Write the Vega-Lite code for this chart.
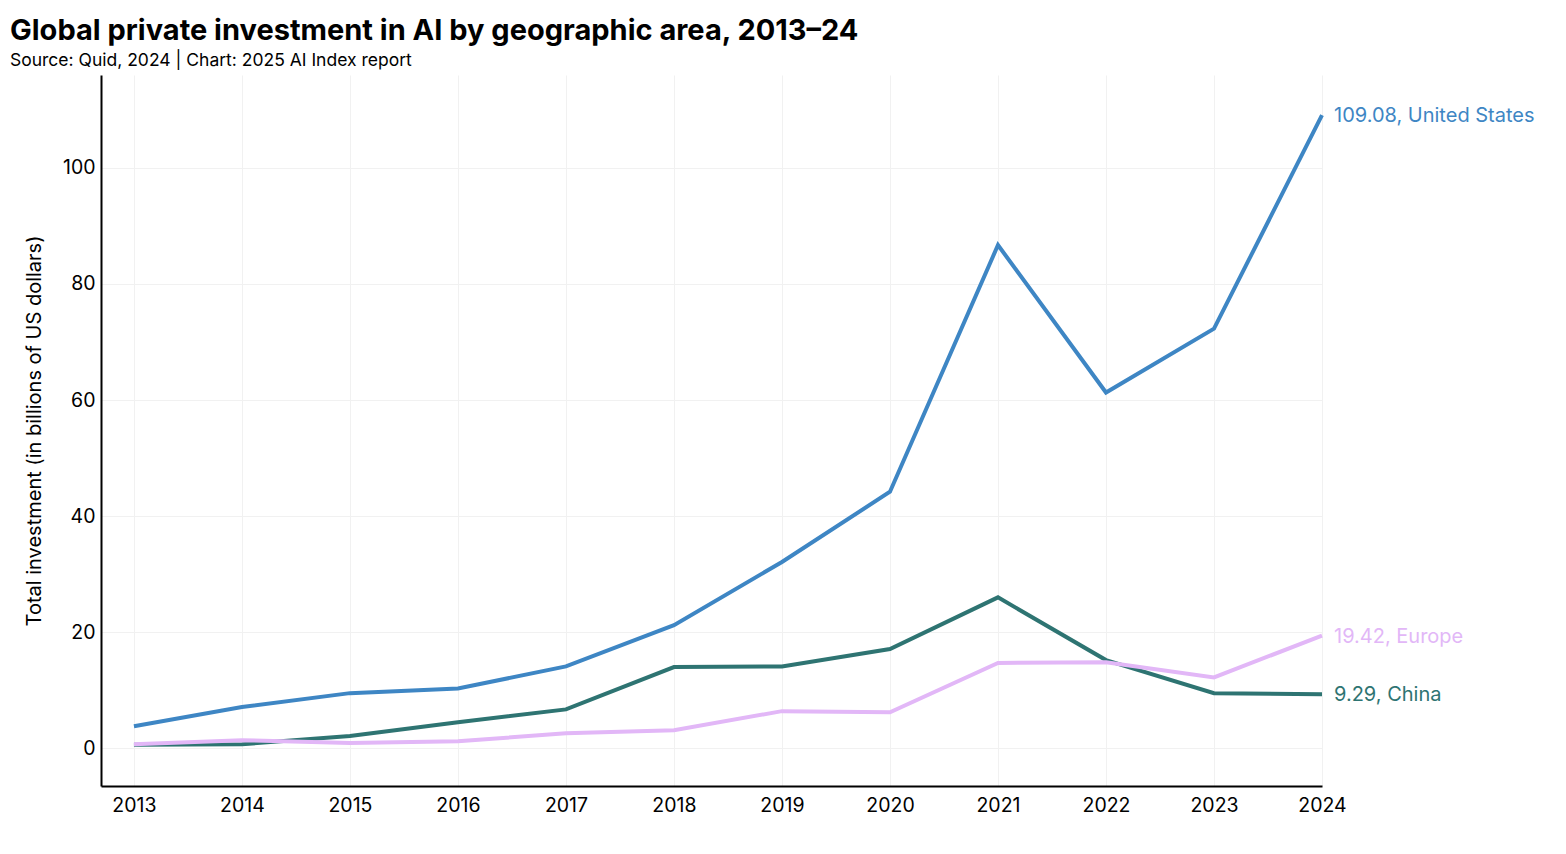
{
  "$schema": "https://vega.github.io/schema/vega-lite/v6.json",
  "width": 1221,
  "height": 711,
  "autosize": {"type": "none"},
  "padding": {"left": 101, "top": 75, "right": 244, "bottom": 68},
  "background": "white",
  "title": {
    "text": "Global private investment in AI by geographic area, 2013–24",
    "subtitle": "Source: Quid, 2024 | Chart: 2025 AI Index report",
    "anchor": "start",
    "frame": "group",
    "dx": -91,
    "offset": 6,
    "font": "Inter",
    "fontSize": 29,
    "fontWeight": "bold",
    "color": "black",
    "subtitleFont": "Inter",
    "subtitleFontSize": 17.5,
    "subtitleColor": "black",
    "subtitlePadding": 6
  },
  "config": {
    "view": {"stroke": null},
    "axis": {
      "labelFont": "Inter",
      "labelFontSize": 19.5,
      "labelColor": "black",
      "titleFont": "Inter",
      "titleFontSize": 20,
      "titleFontWeight": "normal",
      "titleColor": "black",
      "domainColor": "black",
      "domainWidth": 2,
      "ticks": false,
      "gridColor": "#f1f1f1",
      "gridWidth": 1
    }
  },
  "data": {
    "values": [
      {"year": 2013, "country": "United States", "value": 3.8},
      {"year": 2014, "country": "United States", "value": 7.1},
      {"year": 2015, "country": "United States", "value": 9.5},
      {"year": 2016, "country": "United States", "value": 10.3},
      {"year": 2017, "country": "United States", "value": 14.1},
      {"year": 2018, "country": "United States", "value": 21.2},
      {"year": 2019, "country": "United States", "value": 32.1},
      {"year": 2020, "country": "United States", "value": 44.2},
      {"year": 2021, "country": "United States", "value": 86.7},
      {"year": 2022, "country": "United States", "value": 61.3},
      {"year": 2023, "country": "United States", "value": 72.3},
      {"year": 2024, "country": "United States", "value": 109.08},
      {"year": 2013, "country": "China", "value": 0.6},
      {"year": 2014, "country": "China", "value": 0.7},
      {"year": 2015, "country": "China", "value": 2.1},
      {"year": 2016, "country": "China", "value": 4.5},
      {"year": 2017, "country": "China", "value": 6.7},
      {"year": 2018, "country": "China", "value": 14.0},
      {"year": 2019, "country": "China", "value": 14.1},
      {"year": 2020, "country": "China", "value": 17.1},
      {"year": 2021, "country": "China", "value": 26.0},
      {"year": 2022, "country": "China", "value": 15.2},
      {"year": 2023, "country": "China", "value": 9.5},
      {"year": 2024, "country": "China", "value": 9.29},
      {"year": 2013, "country": "Europe", "value": 0.7},
      {"year": 2014, "country": "Europe", "value": 1.4},
      {"year": 2015, "country": "Europe", "value": 0.9},
      {"year": 2016, "country": "Europe", "value": 1.2},
      {"year": 2017, "country": "Europe", "value": 2.6},
      {"year": 2018, "country": "Europe", "value": 3.1},
      {"year": 2019, "country": "Europe", "value": 6.4},
      {"year": 2020, "country": "Europe", "value": 6.2},
      {"year": 2021, "country": "Europe", "value": 14.7},
      {"year": 2022, "country": "Europe", "value": 14.8},
      {"year": 2023, "country": "Europe", "value": 12.2},
      {"year": 2024, "country": "Europe", "value": 19.42}
    ]
  },
  "encoding": {
    "x": {
      "field": "year",
      "type": "quantitative",
      "scale": {"domain": [2012.695, 2024], "nice": false, "zero": false},
      "axis": {
        "title": null,
        "values": [2013, 2014, 2015, 2016, 2017, 2018, 2019, 2020, 2021, 2022, 2023, 2024],
        "format": "d",
        "labelPadding": 10,
        "labelFlush": false,
        "labelOverlap": false
      }
    },
    "y": {
      "field": "value",
      "type": "quantitative",
      "scale": {"domain": [-6.5, 116], "nice": false, "zero": false},
      "axis": {
        "title": "Total investment (in billions of US dollars)",
        "values": [0, 20, 40, 60, 80, 100],
        "labelPadding": 6,
        "titlePadding": 18
      }
    },
    "color": {
      "field": "country",
      "type": "nominal",
      "scale": {
        "domain": ["United States", "China", "Europe"],
        "range": ["#3e86c4", "#2e7472", "#e2b7f7"]
      },
      "legend": null
    }
  },
  "layer": [
    {
      "mark": {"type": "line", "strokeWidth": 4}
    },
    {
      "transform": [
        {"filter": "datum.year == 2024"},
        {"calculate": "format(datum.value, '.2f') + ', ' + datum.country", "as": "label"}
      ],
      "mark": {"type": "text", "align": "left", "baseline": "middle", "dx": 12, "dy": 1, "font": "Inter", "fontSize": 20},
      "encoding": {
        "text": {"field": "label", "type": "nominal"}
      }
    }
  ]
}
